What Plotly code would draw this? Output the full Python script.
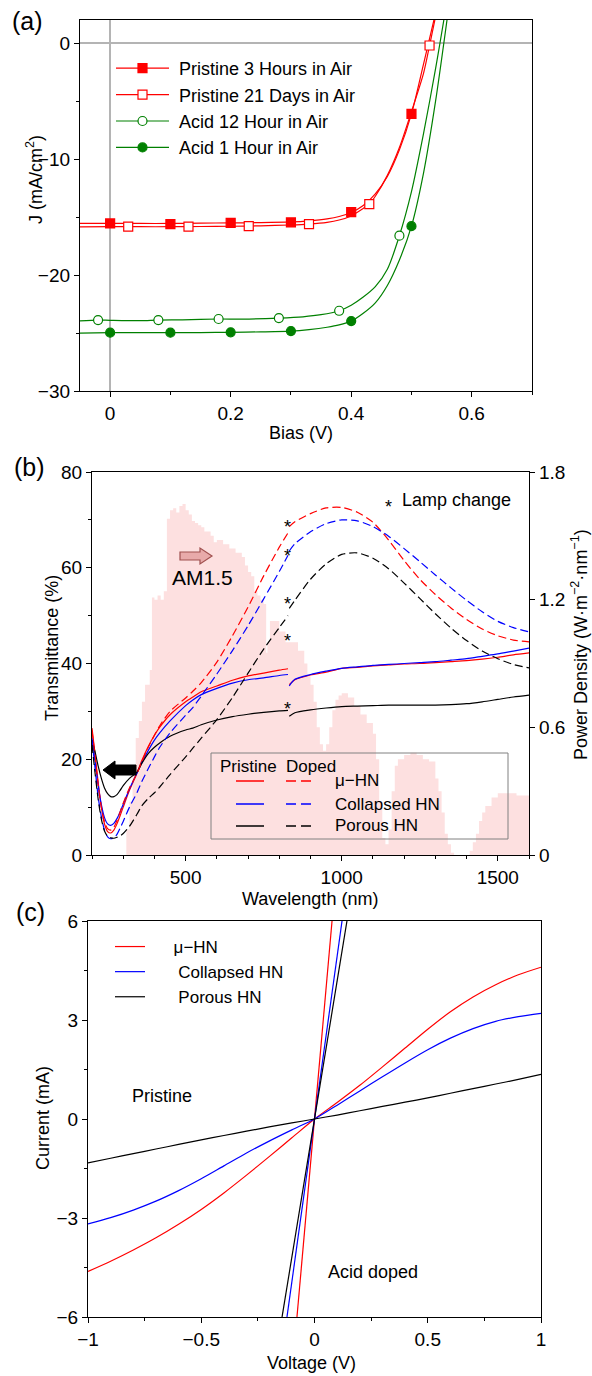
import plotly.graph_objects as go

FONT = "Liberation Sans, Arial, sans-serif"
W, H = 592, 1376

# ---------------- Panel (a): J-V curves ----------------
p3h_v = [-0.05, 0.0, 0.05, 0.1, 0.15, 0.2, 0.25, 0.3, 0.33, 0.36, 0.38, 0.4, 0.42, 0.44, 0.46, 0.48, 0.5, 0.52, 0.54]
p3h_j = [-15.55, -15.55, -15.55, -15.55, -15.52, -15.5, -15.48, -15.42, -15.32, -15.15, -14.95, -14.6, -14.0, -13.0, -11.5, -9.2, -6.1, -1.8, 2.6]
p3h_mv = [0.0, 0.1, 0.2, 0.3, 0.4, 0.5]
p3h_mj = [-15.55, -15.6, -15.5, -15.46, -14.57, -6.1]

p21_v = [-0.05, 0.0, 0.05, 0.1, 0.15, 0.2, 0.25, 0.3, 0.33, 0.36, 0.38, 0.4, 0.42, 0.43, 0.44, 0.46, 0.48, 0.5, 0.52, 0.53, 0.54]
p21_j = [-15.85, -15.83, -15.83, -15.83, -15.81, -15.79, -15.75, -15.68, -15.6, -15.45, -15.25, -14.9, -14.25, -13.88, -13.2, -11.4, -9.0, -5.9, -2.6, -0.2, 2.3]
p21_mv = [0.03, 0.13, 0.23, 0.33, 0.43, 0.53]
p21_mj = [-15.83, -15.83, -15.78, -15.6, -13.88, -0.2]

a12_v = [-0.05, -0.02, 0.0, 0.05, 0.08, 0.12, 0.18, 0.22, 0.28, 0.32, 0.35, 0.38, 0.4, 0.42, 0.44, 0.46, 0.48, 0.5, 0.52, 0.54, 0.555]
a12_j = [-23.95, -23.88, -23.9, -23.93, -23.88, -23.86, -23.79, -23.8, -23.71, -23.6, -23.42, -23.08, -22.6, -21.9, -21.0, -19.5, -16.6, -12.8, -7.8, -2.2, 2.4]
a12_mv = [-0.02, 0.08, 0.18, 0.28, 0.38, 0.48]
a12_mj = [-23.88, -23.88, -23.79, -23.71, -23.08, -16.6]

a1_v = [-0.05, 0.0, 0.05, 0.1, 0.15, 0.2, 0.25, 0.3, 0.33, 0.36, 0.38, 0.4, 0.42, 0.44, 0.46, 0.48, 0.5, 0.52, 0.54, 0.56]
a1_j = [-25.0, -24.97, -24.97, -24.97, -24.96, -24.94, -24.9, -24.83, -24.7, -24.5, -24.3, -23.97, -23.3, -22.4, -20.9, -18.7, -15.78, -11.2, -5.0, 2.4]
a1_mv = [0.0, 0.1, 0.2, 0.3, 0.4, 0.5]
a1_mj = [-24.97, -24.97, -24.94, -24.83, -23.97, -15.78]

# ---------------- Panel (b): transmittance + AM1.5 ----------------
am_wl = [280, 300, 310, 320, 330, 340, 350, 360, 370, 385, 392, 400, 410, 420, 430, 440, 450, 460, 470, 480,
         490, 500, 510, 520, 530, 540, 550, 560, 570, 580, 590, 600, 620, 640, 660, 680, 690, 700, 710, 720,
         730, 740, 750, 758, 762, 770, 780, 800, 820, 840, 860, 880, 890, 900, 910, 920, 930, 940, 950, 960,
         970, 980, 990, 1000, 1020, 1040, 1060, 1080, 1100, 1110, 1120, 1130, 1140, 1150, 1160, 1170, 1180,
         1200, 1220, 1240, 1260, 1280, 1300, 1310, 1320, 1330, 1340, 1350, 1360, 1400, 1410, 1420, 1430,
         1440, 1450, 1460, 1480, 1500, 1520, 1540, 1560, 1580, 1600]
am_pd = [0.0, 0.0, 0.12, 0.25, 0.4, 0.55, 0.63, 0.72, 0.8, 0.87, 1.21, 1.2, 1.22, 1.2, 1.24, 1.58, 1.62, 1.63, 1.61, 1.64,
         1.65, 1.62, 1.6, 1.57, 1.56, 1.55, 1.54, 1.52, 1.52, 1.5, 1.47, 1.48, 1.46, 1.44, 1.42, 1.4, 1.36, 1.33, 1.31, 1.24,
         1.22, 1.2, 1.18, 0.95, 1.0, 1.1, 1.1, 1.05, 1.0, 1.0, 0.96, 0.9, 0.84, 0.8, 0.72, 0.6, 0.52, 0.49, 0.52, 0.6,
         0.68, 0.73, 0.75, 0.76, 0.74, 0.7, 0.66, 0.62, 0.57, 0.45, 0.25, 0.08, 0.05, 0.12, 0.3, 0.42, 0.45,
         0.47, 0.48, 0.47, 0.45, 0.44, 0.36, 0.3, 0.2, 0.1, 0.05, 0.01, 0.0, 0.0, 0.02, 0.06, 0.1,
         0.16, 0.2, 0.23, 0.27, 0.29, 0.29, 0.29, 0.28, 0.28, 0.27]

wl = [200, 210, 220, 230, 240, 250, 260, 270, 280, 290, 300, 320, 344, 360, 380, 400, 417, 450, 500, 523, 550,
      600, 650, 700, 750, 800, 828, 832, 850, 900, 950, 1000, 1050, 1100, 1150, 1200, 1250, 1300, 1350, 1400,
      1450, 1500, 1550, 1600]
t_mu_pristine = [26.5, 21.0, 15.0, 10.0, 6.5, 4.9, 4.6, 5.2, 6.5, 8.2, 10.0, 13.5, 17.1, 19.8, 22.6, 25.0, 26.7, 29.3, 32.0, 33.0, 34.1,
                 35.3, 36.5, 37.4, 38.0, 38.6, 38.9, 35.6, 36.6, 37.6, 38.2, 39.0, 39.2, 39.5, 39.7, 39.9, 40.0, 40.2, 40.4, 40.6,
                 40.9, 41.3, 41.8, 42.2]
t_col_pristine = [24.5, 19.5, 14.5, 10.5, 7.8, 6.5, 6.2, 6.6, 7.6, 9.0, 10.6, 13.8, 17.1, 19.3, 21.8, 24.0, 25.5, 28.0, 31.2, 32.4, 33.5,
                  34.8, 35.9, 36.6, 37.0, 37.5, 37.7, 35.3, 36.7, 37.7, 38.4, 39.0, 39.3, 39.6, 39.8, 40.0, 40.2, 40.4, 40.7, 41.0,
                  41.5, 42.0, 42.6, 43.2]
t_por_pristine = [24.0, 21.5, 18.5, 16.0, 14.0, 12.8, 12.2, 12.2, 12.6, 13.5, 14.5, 16.0, 17.3, 19.2, 21.2, 22.5, 23.4, 24.8, 26.1, 26.5, 27.2,
                  28.2, 28.9, 29.4, 29.8, 30.1, 30.2, 29.0, 29.7, 30.3, 30.7, 31.0, 31.1, 31.2, 31.3, 31.3, 31.3, 31.3, 31.4, 31.6,
                  32.0, 32.5, 33.0, 33.4]
t_mu_doped = [26.0, 20.5, 14.5, 10.0, 7.0, 5.5, 5.2, 5.8, 7.2, 9.0, 10.8, 14.0, 17.0, 19.5, 22.5, 25.0, 27.0, 30.0, 32.8, 34.2, 36.0,
              40.3, 45.8, 51.8, 58.3, 64.3, 67.3, 68.6, 69.6, 71.3, 72.5, 72.6, 71.6, 69.5, 65.8, 61.5, 57.6, 54.4, 51.6, 49.2,
              47.2, 45.8, 44.9, 44.5]
t_col_doped = [24.0, 18.0, 12.0, 8.0, 5.2, 3.8, 3.4, 3.6, 4.3, 5.6, 7.0, 10.0, 13.0, 15.4, 18.0, 20.5, 22.5, 25.5, 29.2, 30.8, 33.2,
               37.8, 42.7, 47.9, 53.5, 59.2, 62.6, 63.5, 65.0, 67.5, 69.2, 70.0, 69.8, 68.6, 66.6, 64.0, 61.3, 58.5, 55.8, 53.2,
               50.8, 48.8, 47.5, 46.6]
t_por_doped = [23.0, 17.0, 11.5, 7.5, 5.0, 3.9, 3.6, 3.5, 3.7, 4.0, 4.5, 6.0, 8.5, 10.3, 11.8, 13.0, 14.2, 16.8, 20.5, 22.3, 24.4,
               28.3, 32.9, 38.0, 43.0, 47.5, 50.0, 51.5, 53.2, 57.6, 60.8, 62.8, 63.1, 62.0, 59.8, 56.8, 53.6, 50.4, 47.4, 44.8,
               42.6, 41.0, 39.8, 39.1]
star_wl = [826, 826, 826, 826, 826]
star_t = [69.3, 63.3, 53.3, 45.5, 31.3]

# ---------------- Panel (c): I-V curves ----------------
v_pr = [-1.0, -0.9, -0.8, -0.7, -0.6, -0.5, -0.4, -0.3, -0.2, -0.1, 0.0, 0.1, 0.2, 0.3, 0.4, 0.5, 0.6, 0.7, 0.8, 0.9, 1.0]
i_mu_pr = [-4.62, -4.31, -3.97, -3.6, -3.19, -2.74, -2.24, -1.7, -1.14, -0.57, 0.0, 0.5, 1.02, 1.58, 2.15, 2.72, 3.25, 3.7, 4.07, 4.37, 4.6]
i_col_pr = [-3.18, -2.99, -2.76, -2.49, -2.17, -1.81, -1.42, -1.03, -0.67, -0.33, 0.0, 0.42, 0.85, 1.28, 1.7, 2.1, 2.45, 2.74, 2.96, 3.1, 3.2]
i_por_pr = [-1.33, -1.19, -1.05, -0.91, -0.77, -0.63, -0.5, -0.37, -0.24, -0.12, 0.0, 0.12, 0.25, 0.38, 0.51, 0.64, 0.78, 0.92, 1.06, 1.2, 1.35]
v_dp = [-0.16, -0.08, 0.0, 0.08, 0.16]
i_mu_dp = [-12.4, -6.2, 0.0, 6.2, 12.4]
i_col_dp = [-7.9, -3.95, 0.0, 3.95, 7.9]
i_por_dp = [-6.7, -3.35, 0.0, 3.35, 6.7]

RED, GREEN, BLUE, BLACK = "#ff0000", "#008000", "#0000ff", "#000000"
LAMP_CHANGE_NM = 830
NB = "\u00a0"


def fx(p):
    return p / W


def fy(p):
    return 1 - p / H


fig = go.Figure()

# ----- (a)
curves_a = [
    ("Pristine 3 Hours in Air", RED, "square", RED, p3h_v, p3h_j, p3h_mv, p3h_mj),
    ("Pristine 21 Days in Air", RED, "square", "white", p21_v, p21_j, p21_mv, p21_mj),
    ("Acid 12 Hour in Air", GREEN, "circle", "white", a12_v, a12_j, a12_mv, a12_mj),
    ("Acid 1 Hour in Air", GREEN, "circle", GREEN, a1_v, a1_j, a1_mv, a1_mj),
]
for name, col, sym, fill, v, j, mv, mj in curves_a:
    fig.add_trace(go.Scatter(x=v, y=j, mode="lines", line=dict(color=col, width=1.2, shape="spline", smoothing=0.8),
                             showlegend=False, xaxis="x", yaxis="y", hoverinfo="skip"))
    fig.add_trace(go.Scatter(x=mv, y=mj, mode="markers",
                             marker=dict(symbol=sym, size=9, color=fill, line=dict(color=col, width=1.2)),
                             showlegend=False, xaxis="x", yaxis="y"))
for i, (name, col, sym, fill, v, j, mv, mj) in enumerate(curves_a):
    fig.add_trace(go.Scatter(x=[None], y=[None], mode="lines+markers", name=NB + name, legend="legend",
                             legendgroup="a%d" % i,
                             line=dict(color=col, width=1.2),
                             marker=dict(symbol=sym, size=9, color=fill, line=dict(color=col, width=1.2)),
                             xaxis="x", yaxis="y"))

# ----- (b)
fig.add_trace(go.Scatter(x=am_wl, y=am_pd, mode="lines", fill="tozeroy", fillcolor="#fde0e0",
                         line=dict(width=0, shape="hv", color="#fde0e0"), showlegend=False,
                         xaxis="x2", yaxis="y2", hoverinfo="skip"))
series_b = [
    (t_mu_pristine, RED, "solid"), (t_col_pristine, BLUE, "solid"), (t_por_pristine, BLACK, "solid"),
    (t_mu_doped, RED, "8px,4px"), (t_col_doped, BLUE, "8px,4px"), (t_por_doped, BLACK, "8px,4px"),
]
for t, col, dash in series_b:
    # the lamp change at 830 nm makes a step: draw the two segments separately
    for keep in (lambda w: w < LAMP_CHANGE_NM, lambda w: w > LAMP_CHANGE_NM):
        xs = [w for w in wl if keep(w)]
        ys = [v for w, v in zip(wl, t) if keep(w)]
        fig.add_trace(go.Scatter(x=xs, y=ys, mode="lines",
                                 line=dict(color=col, width=1.2, dash=dash, shape="spline", smoothing=0.7),
                                 showlegend=False, xaxis="x2", yaxis="y3", hoverinfo="skip"))

# ----- (c)
for name, i_pr, i_dp, col in [(NB * 5 + "\u03bc\u2212HN", i_mu_pr, i_mu_dp, RED),
                              (NB * 6 + "Collapsed HN", i_col_pr, i_col_dp, BLUE),
                              (NB * 6 + "Porous HN", i_por_pr, i_por_dp, BLACK)]:
    fig.add_trace(go.Scatter(x=v_pr, y=i_pr, mode="lines", name=name, legend="legend2",
                             legendgroup=name,
                             line=dict(color=col, width=1.2, shape="spline", smoothing=0.8),
                             xaxis="x3", yaxis="y4"))
    fig.add_trace(go.Scatter(x=v_dp, y=i_dp, mode="lines", showlegend=False,
                             line=dict(color=col, width=1.2), xaxis="x3", yaxis="y4"))

tickfont = dict(family=FONT, size=19, color="black")
common = dict(showline=True, linecolor="black", linewidth=1.2, ticks="outside", ticklen=5, tickwidth=1,
              tickcolor="black", showgrid=False, tickfont=tickfont, automargin=False)


def minor(d):
    return dict(ticks="outside", dtick=d, ticklen=3, tickwidth=1, tickcolor="black", showgrid=False)


fig.update_layout(
    width=W, height=H, margin=dict(l=0, r=0, t=0, b=0, autoexpand=False),
    paper_bgcolor="white", plot_bgcolor="white",
    font=dict(family=FONT, size=18, color="black"),
    xaxis=dict(**common, domain=[fx(80), fx(532)], range=[-0.05, 0.7], dtick=0.2, tick0=0, minor=minor(0.1),
               anchor="y", mirror=True, zeroline=True, zerolinecolor="#b4b4b4", zerolinewidth=1.5),
    yaxis=dict(**common, domain=[fy(391), fy(20)], range=[-30, 2], dtick=10, tick0=0, minor=minor(5),
               anchor="x", mirror=True, zeroline=True, zerolinecolor="#b4b4b4", zerolinewidth=1.5),
    xaxis2=dict(**common, domain=[fx(92), fx(529)], range=[200, 1600], dtick=500, tick0=0, minor=minor(100),
                anchor="y2", mirror=True, zeroline=False),
    yaxis2=dict(**common, domain=[fy(855), fy(472)], range=[0, 1.8], dtick=0.6, tick0=0, side="right",
                anchor="x2", zeroline=False),
    yaxis3=dict(**common, range=[0, 80], dtick=20, tick0=0, minor=minor(10), overlaying="y2", side="left",
                anchor="x2", zeroline=False),
    xaxis3=dict(**common, domain=[fx(88), fx(541)], range=[-1, 1], dtick=0.5, tick0=0, minor=minor(0.25),
                anchor="y4", mirror=True, zeroline=False),
    yaxis4=dict(**common, domain=[fy(1317), fy(921)], range=[-6, 6], dtick=3, tick0=0, minor=minor(1.5),
                anchor="x3", mirror=True, zeroline=False),
    legend=dict(x=fx(111), y=fy(50), xanchor="left", yanchor="top", bgcolor="rgba(0,0,0,0)",
                font=dict(family=FONT, size=18, color="black"), itemwidth=53, traceorder="grouped",
                tracegroupgap=0),
    legend2=dict(x=fx(110), y=fy(929), xanchor="left", yanchor="top", bgcolor="rgba(0,0,0,0)",
                 font=dict(family=FONT, size=17, color="black"), itemwidth=30, tracegroupgap=0,
                 traceorder="grouped"),
)

ann = []


def txt(text, x, y, size=18, xanchor="center", yanchor="middle", xref="paper", yref="paper", **kw):
    ann.append(dict(text=text, x=x, y=y, xref=xref, yref=yref, xanchor=xanchor, yanchor=yanchor,
                    showarrow=False, font=dict(family=FONT, size=size, color="black"), **kw))


# axis titles
txt("Bias (V)", fx(301), fy(433))
txt("J (mA/cm<sup>2</sup>)", fx(34), fy(180), textangle=-90)
txt("Wavelength (nm)", fx(310), fy(899))
txt("Transmittance (%)", fx(52), fy(648), textangle=-90)
txt("Power Density (W\u00b7m<sup>\u22122</sup>\u00b7nm<sup>\u22121</sup>)", fx(579), fy(645), textangle=-90)
txt("Voltage (V)", fx(312), fy(1363))
txt("Current (mA)", fx(43), fy(1118), textangle=-90)
# panel labels and notes
txt("(a)", fx(10), fy(21), size=25, xanchor="left")
txt("(b)", fx(12), fy(467), size=25, xanchor="left")
txt("(c)", fx(14), fy(912), size=25, xanchor="left")
txt("AM1.5", fx(202), fy(577), size=21)
txt("*", fx(388), fy(507), size=18)
txt("Lamp change", fx(400), fy(500), size=18, xanchor="left")
for xs, ys in zip(star_wl, star_t):
    txt("*", xs, ys, size=18, xref="x2", yref="y3", yshift=-4)
txt("Pristine", fx(162), fy(1096), size=18)
txt("Acid doped", fx(373), fy(1272), size=18)
# legend of panel (b)
txt("Pristine", fx(218), fy(766), size=17, xanchor="left")
txt("Doped", fx(284), fy(766), size=17, xanchor="left")
for lab, yy in [("\u03bc\u2212HN", 781), ("Collapsed HN", 804), ("Porous HN", 826)]:
    txt(lab, fx(333), fy(yy), size=17, xanchor="left")
fig.update_layout(annotations=ann)

shapes = []


def path(points):
    return "M " + " L ".join("%.5f,%.5f" % (fx(a), fy(b)) for a, b in points) + " Z"


shapes.append(dict(type="path", xref="paper", yref="paper",
                   path=path([(180, 552), (200, 552), (200, 548), (212, 556), (200, 564), (200, 560), (180, 560)]),
                   fillcolor="#e8aaaa", line=dict(color="#a0504f", width=1.2)))
shapes.append(dict(type="path", xref="paper", yref="paper",
                   path=path([(136, 765), (115, 765), (115, 761), (103, 770), (115, 779), (115, 775), (136, 775)]),
                   fillcolor="black", line=dict(color="black", width=1)))
shapes.append(dict(type="rect", xref="paper", yref="paper", x0=fx(211), x1=fx(508), y0=fy(839), y1=fy(753),
                   line=dict(color="#808080", width=1)))
for col, yy in [(RED, 781), (BLUE, 804), (BLACK, 826)]:
    shapes.append(dict(type="line", xref="paper", yref="paper", x0=fx(236), x1=fx(264), y0=fy(yy), y1=fy(yy),
                       line=dict(color=col, width=1.5)))
    shapes.append(dict(type="line", xref="paper", yref="paper", x0=fx(286), x1=fx(313), y0=fy(yy), y1=fy(yy),
                       line=dict(color=col, width=1.5, dash="10px,5px")))
fig.update_layout(shapes=shapes)

fig.write_html("out.html", config={"displayModeBar": False},
               post_script="document.body.style.margin='0px';document.body.style.overflow='hidden';")
